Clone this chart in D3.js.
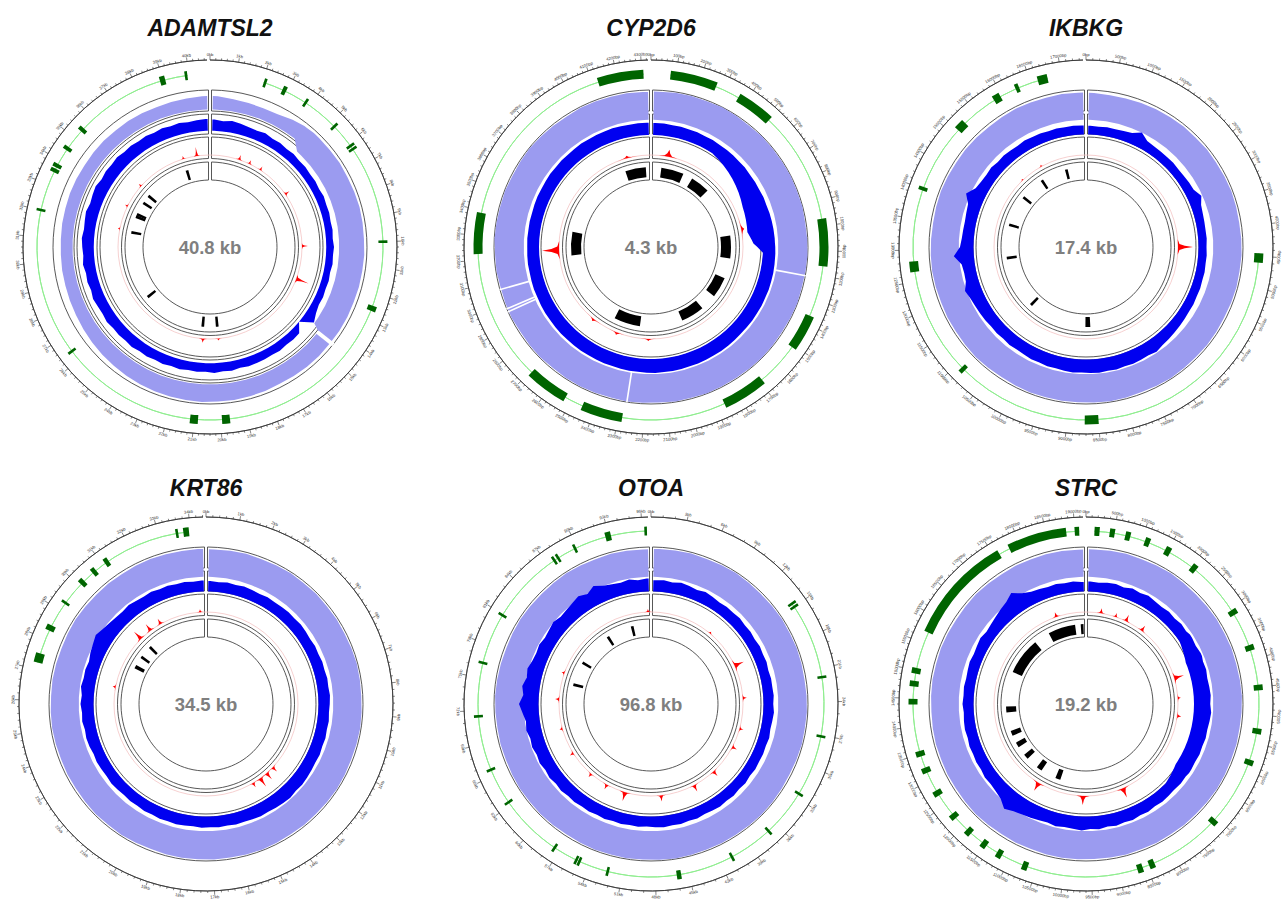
<!DOCTYPE html>
<html>
<head>
<meta charset="utf-8">
<script src="https://cdn.jsdelivr.net/npm/d3@7"></script>
<style>
  body { margin: 0; background: white; }
  svg { display: block; font-family: 'Liberation Sans', Arial, sans-serif; }
</style>
</head>
<body>
<svg id="chart" width="1282" height="901"></svg>
<script>
/* DATA */

// Gene names, lengths and centre labels
const genes = ['ADAMTSL2', 'CYP2D6', 'IKBKG', 'KRT86', 'OTOA', 'STRC']
const lengths = [40.8, 4337, 17.4, 34.5, 96.8, 19.2]
const centreLabels = ['40.8 kb', '4.3 kb', '17.4 kb', '34.5 kb', '96.8 kb', '19.2 kb']

// Ticks: major step, minor step, unit of the labels
const tickSteps = [1, 100, 0.5, 1, 3, 0.5]
const minorSteps = [0.2, 20, 0.1, 0.2, 1, 0.1]
const tickUnits = ['kb', 'bp', 'bp-from-kb', 'kb', 'kb', 'bp-from-kb']

// Exons (green) [start, end]
const adamExons = [[2.05, 2.15], [2.8, 2.95], [3.75, 3.85], [5.15, 5.25], [6.1, 6.2], [6.25, 6.35], [9.95, 10.05], [12.45, 12.65], [19.65, 19.95], [20.85, 21.15], [26.35, 26.45], [31.95, 32.05], [33.5, 33.65], [33.7, 33.85], [34.45, 34.6], [35.35, 35.5], [38.9, 39.1], [39.85, 39.95]]
const cypExons = [[78, 266], [365, 517], [971, 1161], [1366, 1510], [1688, 1866], [2284, 2450], [2525, 2694], [3225, 3390], [4123, 4307]]
const ikExons = [[4.45, 4.6], [8.5, 8.72], [10.85, 10.92], [12.65, 12.82], [13.97, 14.03], [15.1, 15.26], [15.85, 15.97], [16.24, 16.3], [16.62, 16.78]]
const krtExons = [[27.2, 27.5], [28.28, 28.46], [29.27, 29.33], [30.07, 30.22], [30.58, 30.72], [31.08, 31.22], [33.55, 33.6], [33.78, 33.96]]
const otoaExons = [[14.6, 14.75], [14.95, 15.1], [21.7, 21.9], [27.0, 27.2], [32.5, 32.7], [36.8, 37.0], [40.8, 41.0], [45.7, 46.1], [52.2, 52.4], [54.9, 55.05], [55.2, 55.35], [57.4, 57.6], [63.2, 63.4], [66.5, 66.7], [71.4, 71.6], [76.2, 76.4], [80.8, 81.0], [87.6, 87.75], [88.0, 88.15], [89.7, 89.9], [92.7, 93.2], [96.25, 96.4]]
const strcExons = [[0.15, 0.24], [0.42, 0.51], [0.7, 0.79], [1.06, 1.15], [1.45, 1.55], [2.0, 2.1], [3.05, 3.15], [3.74, 3.84], [4.46, 4.56], [5.23, 5.33], [5.8, 5.9], [7.03, 7.13], [8.36, 8.46], [8.58, 8.68], [10.65, 10.75], [11.15, 11.25], [11.47, 11.57], [11.82, 11.92], [12.2, 12.3], [12.7, 12.8], [13.15, 13.25], [13.46, 13.56], [14.39, 14.49], [14.71, 14.81], [14.94, 15.04], [15.7, 17.6], [17.8, 18.85], [19.0, 19.08]]

// Coding blocks (black) [start, end]
const adamMarks = [[19.72, 19.9], [20.9, 21.08], [26.17, 26.23], [31.77, 31.83], [33.1, 33.16], [33.3, 33.36], [34.37, 34.43], [35.07, 35.13], [38.87, 38.93]]
const cypMarks = [[4112, 4292], [90, 288], [373, 542], [985, 1184], [1361, 1542], [1687, 1891], [2265, 2494], [3180, 3385]]
const ikMarks = [[8.55, 8.72], [10.77, 10.83], [12.63, 12.69], [13.8, 13.86], [14.88, 14.94], [15.75, 15.81], [16.68, 16.74]]
const krtMarks = [[28.42, 28.68], [29.24, 29.42], [30.2, 30.26]]
const otoaMarks = [[93.0, 93.25], [87.9, 88.15], [80.85, 81.1], [76.25, 76.5]]
const strcMarks = [[10.6, 10.8], [11.4, 11.62], [12.1, 12.3], [12.66, 12.86], [13.15, 13.35], [14.07, 14.3], [15.66, 17.1], [17.72, 18.78], [19.0, 19.1]]

// Red peaks [position, height, half width]
const adamPeaks = [[2.1, 5, 0.25], [2.87, 4, 0.22], [3.75, 4, 0.22], [6.23, 5, 0.25], [10.13, 6, 0.22], [12.5, 13, 0.3], [19.8, 2, 0.25], [20.9, 4, 0.3], [31.9, 2, 0.2], [33.6, 3, 0.22], [35.3, 3, 0.22], [38.9, 3, 0.22], [39.87, 9, 0.22]]
const cypPeaks = [[3229, 17, 68], [130, 7, 70], [950, 3, 90], [2632, 2.5, 70], [2431, 2.5, 60], [2189, 2, 60], [4156, 2.5, 80]]
const ikPeaks = [[4.35, 15, 0.23], [16.0, 2, 0.1], [15.3, 1.5, 0.1]]
const krtPeaks = [[30.2, 10, 0.3], [30.95, 8, 0.28], [31.67, 6, 0.26], [34.15, 3, 0.22], [26.9, 3, 0.25], [13.3, 8, 0.28], [13.79, 10, 0.3], [12.8, 6, 0.26], [14.3, 5, 0.25]]
const otoaPeaks = [[10.7, 2, 0.8], [17.6, 10, 1.1], [23.2, 4, 0.7], [28.4, 4, 0.7], [31.7, 5, 0.7], [36.9, 6, 0.8], [40.9, 7, 0.8], [46.7, 6, 0.8], [52.8, 9, 1.0], [56.1, 5, 0.8], [59.3, 4, 0.7], [63.9, 4, 0.7], [68.4, 3, 0.7], [73.4, 4, 0.7], [77.9, 3, 0.7], [96.3, 3, 0.7]]
const strcPeaks = [[0.5, 5, 0.15], [1.0, 4, 0.12], [1.37, 7, 0.15], [1.98, 6, 0.15], [3.93, 10, 0.2], [4.6, 3, 0.15], [5.2, 4, 0.15], [8.34, 10, 0.22], [9.7, 9, 0.22], [11.25, 9, 0.22], [18.2, 5, 0.15]]

// Light blue coverage, 60 bins clockwise from the top (0-100)
const adamCover = [78, 74, 72, 71, 72, 80, 86, 88, 88, 89, 88, 89, 90, 89, 88, 89, 88, 88, 87, 88, 88, 87, 88, 88, 87, 86, 88, 89, 90, 90, 91, 90, 90, 89, 88, 86, 84, 82, 80, 78, 76, 75, 74, 74, 73, 73, 74, 74, 75, 75, 74, 75, 76, 75, 76, 75, 74, 75, 76, 78]
const cypCover = [92, 94, 95, 94, 96, 95, 94, 96, 95, 95, 96, 95, 96, 94, 95, 96, 95, 94, 96, 95, 94, 95, 96, 95, 94, 95, 96, 94, 95, 93, 94, 95, 93, 94, 95, 94, 93, 95, 94, 93, 95, 94, 93, 95, 94, 96, 95, 94, 95, 93, 94, 95, 94, 93, 92, 94, 93, 92, 93, 91]
const ikCover = [88, 86, 87, 88, 89, 90, 91, 90, 92, 91, 92, 93, 92, 91, 92, 93, 92, 93, 92, 91, 92, 93, 92, 93, 94, 93, 92, 93, 94, 93, 92, 93, 92, 93, 92, 91, 92, 93, 92, 91, 92, 91, 92, 93, 92, 91, 90, 91, 92, 91, 90, 91, 90, 89, 90, 91, 90, 89, 90, 89]
const krtCover = [90, 91, 92, 91, 92, 93, 92, 93, 92, 93, 92, 93, 94, 93, 92, 93, 94, 93, 92, 93, 94, 93, 92, 93, 92, 93, 94, 93, 92, 93, 92, 93, 92, 91, 92, 93, 92, 93, 92, 91, 92, 91, 92, 93, 92, 91, 92, 91, 90, 91, 92, 91, 90, 91, 90, 91, 92, 91, 90, 91]
const otoaCover = [91, 92, 93, 92, 93, 94, 93, 92, 93, 94, 93, 94, 93, 92, 93, 94, 93, 94, 93, 92, 93, 94, 95, 94, 93, 94, 93, 94, 95, 94, 93, 94, 93, 94, 93, 92, 93, 94, 93, 94, 93, 92, 93, 92, 93, 94, 93, 92, 91, 92, 93, 92, 91, 92, 93, 92, 91, 92, 91, 90]
const strcCover = [90, 91, 92, 91, 92, 93, 92, 91, 92, 93, 92, 93, 92, 93, 94, 93, 92, 93, 92, 93, 94, 93, 92, 93, 92, 93, 92, 93, 92, 91, 92, 93, 92, 91, 92, 91, 92, 93, 92, 91, 92, 91, 92, 91, 90, 91, 92, 91, 92, 91, 90, 91, 92, 91, 90, 91, 90, 91, 90, 89]

// Lower edge of the light blue band [position, level]
const adamCoverFloor = [[0, 36], [4.3, 36], [4.8, 10], [14.3, 10], [14.5, 36], [40.8, 36]]
const cypCoverFloor = [[0, 4], [4337, 4]]
const ikCoverFloor = [[0, 4], [17.4, 4]]
const krtCoverFloor = [[0, 4], [34.5, 4]]
const otoaCoverFloor = [[0, 4], [96.8, 4]]
const strcCoverFloor = [[0, 4], [19.2, 4]]

// Thin drop-outs in the light blue band
const adamCoverDips = [14.55]
const cypCoverDips = [1211, 2275, 2959, 2973, 3063]

// Blue read depth, 90 bins clockwise from the top (0-100)
const adamDepth = [70, 66, 72, 68, 64, 62, 66, 60, 62, 58, 60, 56, 58, 55, 57, 54, 58, 55, 56, 53, 55, 52, 56, 53, 55, 51, 54, 52, 55, 53, 60, 74, 25, 56, 58, 56, 60, 58, 60, 60, 62, 58, 63, 60, 64, 59, 62, 60, 64, 61, 65, 62, 66, 63, 68, 64, 67, 65, 70, 66, 68, 72, 66, 70, 67, 73, 68, 71, 74, 69, 72, 76, 70, 74, 78, 71, 75, 73, 77, 72, 74, 70, 73, 69, 72, 68, 71, 67, 70, 72]
const cypDepth = [56, 57, 55, 56, 54, 55, 53, 54, 52, 53, 52, 51, 52, 50, 51, 50, 52, 51, 53, 54, 55, 56, 57, 58, 59, 60, 60, 61, 60, 61, 60, 61, 60, 59, 60, 61, 62, 61, 62, 63, 62, 63, 64, 63, 64, 63, 62, 63, 62, 61, 62, 61, 60, 61, 60, 59, 60, 59, 58, 59, 58, 57, 58, 57, 56, 57, 56, 55, 56, 55, 56, 55, 56, 57, 56, 57, 58, 57, 58, 57, 58, 59, 58, 59, 58, 59, 58, 57, 58, 57]
const ikDepth = [45, 44, 46, 45, 48, 52, 70, 50, 46, 45, 44, 45, 43, 44, 46, 48, 65, 50, 46, 44, 43, 44, 42, 44, 43, 45, 44, 46, 45, 47, 46, 48, 50, 52, 55, 58, 65, 60, 62, 64, 62, 65, 63, 66, 64, 62, 65, 63, 60, 62, 58, 60, 56, 55, 57, 54, 56, 55, 58, 60, 62, 66, 75, 60, 58, 62, 90, 64, 58, 56, 55, 58, 62, 85, 60, 54, 52, 55, 50, 52, 50, 48, 52, 49, 50, 47, 49, 46, 48, 46]
const krtDepth = [52, 50, 53, 51, 54, 52, 50, 53, 51, 52, 54, 52, 55, 53, 51, 54, 52, 55, 53, 56, 54, 57, 55, 53, 56, 54, 57, 55, 58, 56, 58, 60, 62, 60, 64, 62, 60, 58, 60, 57, 55, 57, 54, 56, 53, 55, 52, 54, 56, 53, 55, 52, 54, 51, 53, 50, 52, 54, 51, 53, 55, 52, 56, 58, 55, 60, 57, 62, 58, 65, 60, 62, 58, 66, 72, 80, 70, 64, 60, 58, 62, 58, 56, 60, 55, 57, 54, 56, 52, 54]
const otoaDepth = [55, 58, 54, 60, 56, 52, 58, 54, 50, 53, 51, 54, 50, 52, 49, 53, 50, 52, 48, 51, 50, 52, 49, 53, 50, 48, 52, 49, 51, 50, 52, 49, 53, 50, 54, 51, 55, 52, 50, 54, 51, 55, 52, 56, 53, 50, 54, 51, 55, 52, 56, 53, 57, 54, 58, 55, 60, 56, 62, 58, 64, 60, 66, 62, 70, 65, 75, 88, 72, 80, 68, 74, 65, 62, 66, 60, 64, 70, 62, 66, 72, 80, 68, 85, 70, 64, 60, 66, 58, 62]
const strcDepth = [50, 48, 52, 55, 50, 58, 54, 60, 55, 52, 56, 53, 58, 55, 60, 57, 62, 58, 60, 56, 58, 60, 57, 62, 59, 56, 58, 55, 57, 54, 56, 53, 55, 52, 54, 56, 53, 58, 55, 60, 57, 62, 58, 64, 60, 66, 62, 60, 64, 58, 62, 66, 70, 78, 92, 70, 62, 58, 60, 55, 57, 54, 56, 52, 55, 53, 50, 54, 51, 53, 50, 52, 55, 51, 54, 58, 52, 56, 62, 70, 78, 95, 72, 60, 56, 52, 55, 50, 53, 48]

// Lower edge of the blue band [position, level]
const adamDepthFloor = [[0, 25], [40.8, 25]]
const cypDepthFloor = [[0, 8], [400, 8], [600, -15], [800, -40], [980, -50], [1060, -30], [1120, 8], [4337, 8]]
const ikDepthFloor = [[0, 10], [17.4, 10]]
const krtDepthFloor = [[0, 10], [34.5, 10]]
const otoaDepthFloor = [[0, 10], [96.8, 10]]
const strcDepthFloor = [[0, 10], [3.0, 10], [3.6, -8], [6.6, -8], [7.2, 10], [19.2, 10]]

const allExons = [adamExons, cypExons, ikExons, krtExons, otoaExons, strcExons]
const allMarks = [adamMarks, cypMarks, ikMarks, krtMarks, otoaMarks, strcMarks]
const allPeaks = [adamPeaks, cypPeaks, ikPeaks, krtPeaks, otoaPeaks, strcPeaks]
const allCover = [adamCover, cypCover, ikCover, krtCover, otoaCover, strcCover]
const allCoverFloor = [adamCoverFloor, cypCoverFloor, ikCoverFloor, krtCoverFloor, otoaCoverFloor, strcCoverFloor]
const allCoverDips = [adamCoverDips, cypCoverDips, [], [], [], []]
const allDepth = [adamDepth, cypDepth, ikDepth, krtDepth, otoaDepth, strcDepth]
const allDepthFloor = [adamDepthFloor, cypDepthFloor, ikDepthFloor, krtDepthFloor, otoaDepthFloor, strcDepthFloor]

/* LAYOUT & STYLE */

const centres = [[210, 247], [651, 247], [1086, 247], [206, 704], [651, 704], [1086, 704]]
const TAU = Math.PI * 2
const R = 187
const lightBlue = '#9b9bf0'
const deepBlue = '#0000f0'
const exonGreen = '#006400'
const lineGreen = '#90ee90'
const trackLine = '#454545'

// Track rings [inner, outer]
const rings = [[67, 85], [88.5, 110], [113, 133], [136, 157]]

/* FUNCTIONS */

function tickText (pos, unit) {
  if (unit === 'bp-from-kb') return Math.round(pos * 1000) + 'bp'
  return (+pos.toFixed(3)) + unit
}

function binPoints (values, length, extra) {
  const n = values.length
  const pts = values.map((v, i) => ({ pos: (i + 0.5) * length / n, v }))
  pts.unshift({ pos: length * 0.003, v: values[0] })
  pts.push({ pos: length * 0.997, v: values[n - 1] })
  extra.forEach(p => {
    if (p > length * 0.003 && p < length * 0.997) {
      const i = Math.min(n - 1, Math.floor(p / length * n))
      pts.push({ pos: p, v: values[i] })
    }
  })
  return pts.sort((a, b) => a.pos - b.pos)
}

function drawPanel (svg, k) {
  const L = lengths[k]
  const g = svg.append('g')
    .attr('transform', `translate(${centres[k][0]},${centres[k][1]})`)

  const angle = d3.scaleLinear().domain([0, L]).range([0, TAU])
  const coverR = d3.scaleLinear().domain([0, 100]).range([126, 158])
  const depthR = d3.scaleLinear().domain([0, 100]).range([110, 135])
  const peakR = d3.scaleLinear().domain([0, 20]).range([92, 112])

  const coverFloor = d3.scaleLinear()
    .domain(allCoverFloor[k].map(d => d[0]))
    .range(allCoverFloor[k].map(d => d[1]))
  const depthFloor = d3.scaleLinear()
    .domain(allDepthFloor[k].map(d => d[0]))
    .range(allDepthFloor[k].map(d => d[1]))

  /* Track outlines, split at the top */
  rings.forEach(r => {
    g.append('path')
      .attr('d', d3.arc()
        .innerRadius(r[0]).outerRadius(r[1])
        .startAngle(0).endAngle(TAU - 1e-6)
        .padAngle(0.03).padRadius(100)())
      .attr('fill', 'none')
      .attr('stroke', trackLine)
      .attr('stroke-width', 0.9)
  })

  // pink baseline of the peak track
  g.append('circle')
    .attr('r', peakR(0))
    .attr('fill', 'none')
    .attr('stroke', '#f4c4c4')
    .attr('stroke-width', 0.8)

  /* Light blue coverage */
  const coverPts = binPoints(allCover[k], L, allCoverFloor[k].map(d => d[0]))
  g.append('path')
    .attr('d', d3.areaRadial()
      .angle(d => angle(d.pos))
      .innerRadius(d => coverR(coverFloor(d.pos)))
      .outerRadius(d => coverR(d.v))(coverPts))
    .attr('fill', lightBlue)

  allCoverDips[k].forEach(p => {
    const a = angle(p)
    g.append('line')
      .attr('x1', Math.sin(a) * coverR(coverFloor(p) - 2))
      .attr('y1', -Math.cos(a) * coverR(coverFloor(p) - 2))
      .attr('x2', Math.sin(a) * coverR(98))
      .attr('y2', -Math.cos(a) * coverR(98))
      .attr('stroke', 'white')
      .attr('stroke-width', k === 0 ? 4 : 1.6)
  })

  /* Blue depth */
  const depthPts = binPoints(allDepth[k], L, allDepthFloor[k].map(d => d[0]))
  g.append('path')
    .attr('d', d3.areaRadial()
      .angle(d => angle(d.pos))
      .innerRadius(d => depthR(depthFloor(d.pos)))
      .outerRadius(d => depthR(Math.max(d.v, depthFloor(d.pos))))(depthPts))
    .attr('fill', deepBlue)

  /* Red peaks */
  const shape = [[-1, 0], [-0.4, 0.1], [-0.15, 0.45], [0, 1], [0.15, 0.45], [0.4, 0.1], [1, 0]]
  const peakArea = d3.areaRadial()
    .angle(d => angle(d[0]))
    .innerRadius(peakR(0))
    .outerRadius(d => peakR(d[1]))
  allPeaks[k].forEach(pk => {
    g.append('path')
      .attr('d', peakArea(shape.map(s => [pk[0] + s[0] * pk[2], s[1] * pk[1]])))
      .attr('fill', 'red')
  })

  /* Black coding blocks */
  const blockArc = (r0, r1, s, e) => {
    let a0 = angle(s)
    let a1 = angle(e)
    const minA = 2.6 / ((r0 + r1) / 2)
    if (a1 - a0 < minA) {
      const m = (a0 + a1) / 2
      a0 = m - minA / 2
      a1 = m + minA / 2
    }
    return d3.arc().innerRadius(r0).outerRadius(r1).startAngle(a0).endAngle(a1)()
  }
  allMarks[k].forEach(m => {
    g.append('path').attr('d', blockArc(70, 80, m[0], m[1])).attr('fill', 'black')
  })

  /* Gene line and exons */
  const exons = allExons[k]
  g.append('path')
    .attr('d', d3.arc()
      .innerRadius(173).outerRadius(173)
      .startAngle(angle(exons[0][0]))
      .endAngle(angle(exons[exons.length - 1][1]))())
    .attr('fill', 'none')
    .attr('stroke', lineGreen)
    .attr('stroke-width', 1)
  exons.forEach(e => {
    g.append('path').attr('d', blockArc(168.5, 177.5, e[0], e[1])).attr('fill', exonGreen)
  })

  /* Axis */
  g.append('path')
    .attr('d', d3.arc().innerRadius(R).outerRadius(R)
      .startAngle(0).endAngle(TAU - 3 / R)())
    .attr('fill', 'none')
    .attr('stroke', '#333')
    .attr('stroke-width', 0.8)

  const minor = minorSteps[k]
  const ratio = Math.round(tickSteps[k] / minor)
  const nTicks = Math.floor(L / minor + 1e-9)
  d3.range(nTicks + 1).forEach(i => {
    const pos = i * minor
    if (pos > L - minor * 0.3) return
    const a = angle(pos)
    const major = i % ratio === 0
    const len = major ? 4 : 2
    g.append('line')
      .attr('x1', Math.sin(a) * R).attr('y1', -Math.cos(a) * R)
      .attr('x2', Math.sin(a) * (R + len)).attr('y2', -Math.cos(a) * (R + len))
      .attr('stroke', '#333')
      .attr('stroke-width', 0.6)
    if (major) {
      const deg = a * 180 / Math.PI
      const flip = deg > 90 && deg < 270
      const lr = R + 6
      g.append('text')
        .attr('transform', `translate(${Math.sin(a) * lr},${-Math.cos(a) * lr}) rotate(${flip ? deg + 180 : deg})`)
        .attr('text-anchor', 'middle')
        .attr('dominant-baseline', 'central')
        .attr('font-size', 4.2)
        .attr('fill', '#333')
        .text(tickText(pos, tickUnits[k]))
    }
  })

  /* Labels */
  g.append('text')
    .attr('y', 0)
    .attr('text-anchor', 'middle')
    .attr('dominant-baseline', 'central')
    .attr('font-size', 18.5)
    .attr('font-weight', 'bold')
    .attr('fill', '#7f7f7f')
    .text(centreLabels[k])

  g.append('text')
    .attr('y', k < 3 ? -211 : -208)
    .attr('text-anchor', 'middle')
    .attr('font-size', 23)
    .attr('font-weight', 'bold')
    .attr('font-style', 'italic')
    .attr('fill', '#111')
    .text(genes[k])
}

/* CALL FUNCTIONS */

const svg = d3.select('#chart')
svg.append('rect').attr('width', 1282).attr('height', 901).attr('fill', 'white')
genes.forEach((d, k) => drawPanel(svg, k))
</script>
</body>
</html>
